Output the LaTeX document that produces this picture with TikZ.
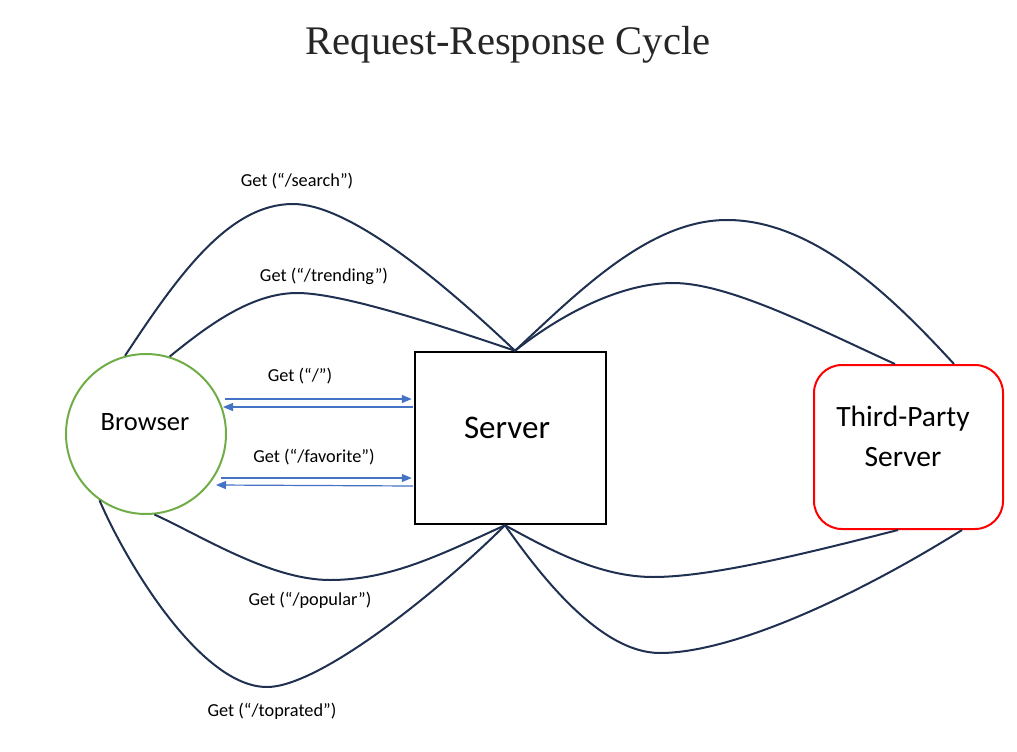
\documentclass[tikz,border=0pt]{standalone}
\usepackage{fontspec}
\setmainfont{Carlito}
\newfontfamily\titlefont{Liberation Serif}
\usetikzlibrary{arrows.meta}
\definecolor{navy}{HTML}{1F3050}
\definecolor{arrblue}{HTML}{4472C4}
\definecolor{browsergreen}{HTML}{70AD47}
\definecolor{titlegray}{HTML}{262626}
\tikzset{
  curve/.style={draw=navy, line width=2pt},
  arr/.style={draw=arrblue, line width=1.2pt, -{Triangle[length=10pt,width=8pt]}},
  lbl/.style={font=\fontsize{18.3}{21}\selectfont, inner sep=0pt},
}
\begin{document}
\begin{tikzpicture}[x=1pt,y=-1pt]
\useasboundingbox (0,0) rectangle (1017,752);
\node[font=\titlefont\fontsize{40.6}{46}\selectfont, text=titlegray] (title) at (508,45) {Request-Response Cycle};

\node[circle, draw=browsergreen, line width=2pt, minimum size=160pt, inner sep=0pt] (browser) at (146,434) {};
\node[font=\fontsize{26.5}{30}\selectfont] (browsertext) at (145,422) {Browser};

\node[rectangle, draw=black, line width=2.5pt, minimum width=191pt, minimum height=172pt, inner sep=0pt] (server) at (510.5,438) {};
\node[font=\fontsize{33}{38}\selectfont] (servertext) at (507,428) {Server};

\node[rectangle, rounded corners=28pt, draw=red, line width=2pt, minimum width=189pt, minimum height=164pt, inner sep=0pt] (tp) at (908.5,447) {};
\node[font=\fontsize{29.5}{40}\selectfont, align=center] (tptext) at (903,436) {Third-Party\\Server};

% connection points
\coordinate (stop) at ([xshift=4.5pt]server.north);
\coordinate (sbot) at ([xshift=-5.5pt]server.south);
\coordinate (tpa) at ([xshift=45.5pt]tp.north);
\coordinate (tpb) at ([xshift=-13.5pt]tp.north);
\coordinate (tpc) at ([xshift=-10.5pt]tp.south);
\coordinate (tpd) at ([xshift=53.5pt]tp.south);

% curves browser - server (top)
\draw[curve] (browser.105) .. controls (180,272) and (230,204) .. (293,204)
  .. controls (345,204) and (430,270) .. (stop);
\draw[curve] (browser.73) .. controls (205,328) and (250,293) .. (297,293)
  .. controls (340,293) and (430,322) .. (stop);
% server - third party (top)
\draw[curve] (stop) .. controls (580,290) and (650,220) .. (727,220)
  .. controls (815,220) and (895,300) .. (tpa);
\draw[curve] (stop) .. controls (560,315) and (620,283) .. (673,283)
  .. controls (730,283) and (820,330) .. (tpb);
% browser - server (bottom)
\draw[curve] (browser.276) .. controls (200,535) and (270,580) .. (330,580)
  .. controls (390,580) and (440,555) .. (sbot);
\draw[curve] (browser.235) .. controls (125,560) and (200,687) .. (267,687)
  .. controls (320,687) and (440,590) .. (sbot);
% server - third party (bottom)
\draw[curve] (sbot) .. controls (550,550) and (600,577) .. (653,577)
  .. controls (710,577) and (800,555) .. (tpc);
\draw[curve] (sbot) .. controls (540,575) and (600,653) .. (660,653)
  .. controls (730,653) and (850,600) .. (tpd);

% straight arrows
\draw[arr] ([shift={(-2,-35)}]browser.east) -- ([shift={(-2,-39)}]server.west);
\draw[arr] ([shift={(-1,-31)}]server.west) -- ([shift={(-4,-27)}]browser.east);
\draw[arr] ([shift={(-6,44)}]browser.east) -- ([shift={(-2,40)}]server.west);
\draw[arr] ([shift={(-1,48)}]server.west) -- ([shift={(-11,51)}]browser.east);

% labels
\node[lbl] (l1) at (297,181) {Get (“/search”)};
\node[lbl] (l2) at (324,276) {Get (“/trending”)};
\node[lbl] (l3) at (300,376) {Get (“/”)};
\node[lbl] (l4) at (314,457) {Get (“/favorite”)};
\node[lbl] (l5) at (310,600) {Get (“/popular”)};
\node[lbl] (l6) at (272,711) {Get (“/toprated”)};
\end{tikzpicture}
\end{document}
